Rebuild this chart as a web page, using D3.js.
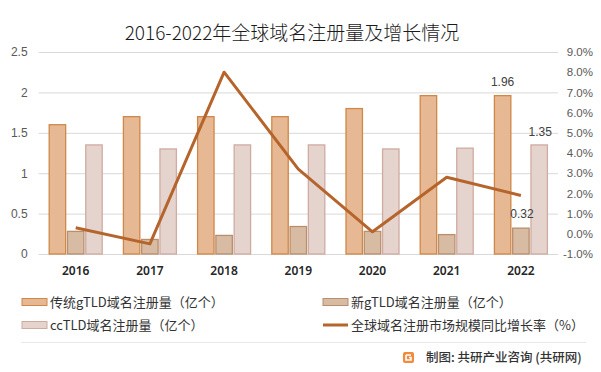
<!DOCTYPE html>
<html>
<head>
<meta charset="utf-8">
<script src="https://cdn.jsdelivr.net/npm/d3@7"></script>
<style>
	body { margin: 0; background: #fff; }
	svg { display: block; font-family: "Noto Sans CJK SC", "Noto Sans", sans-serif; }
</style>
</head>
<body>
<svg id="chart"></svg>
<script>
var years = ['2016', '2017', '2018', '2019', '2020', '2021', '2022']
var seriesNames = ['传统gTLD域名注册量（亿个）', '新gTLD域名注册量（亿个）', 'ccTLD域名注册量（亿个）']
var gtld = [1.60, 1.70, 1.70, 1.70, 1.80, 1.96, 1.96]
var newGtld = [0.28, 0.18, 0.23, 0.34, 0.28, 0.24, 0.32]
var cctld = [1.35, 1.30, 1.35, 1.35, 1.30, 1.31, 1.35]
var lineName = '全球域名注册市场规模同比增长率（%）'
var growth = [0.3, -0.5, 8.0, 3.2, 0.1, 2.8, 1.9]
var leftTicks = [0, 0.5, 1, 1.5, 2, 2.5]
var rightTicks = [-1, 0, 1, 2, 3, 4, 5, 6, 7, 8, 9]

function main() {
	var W = 601, H = 372
	var plot = { left: 38.6, right: 558, top: 52, bottom: 254 }

	var svg = d3.select("#chart")
		.attr("width", W)
		.attr("height", H)

	var fills = ['#E6B893', '#D8BBA3', '#E5D3CD']
	var strokes = ['#D08848', '#B98E6C', '#CFABA1']
	var lineColor = '#B5652C'

	var xScale = d3.scaleBand()
		.domain(years)
		.range([plot.left, plot.right])
		.padding(0)

	var xSub = d3.scaleBand()
		.domain([0, 1, 2])
		.range([10.6, xScale.bandwidth() - 10.6])
		.paddingInner(0.1)

	var yLeft = d3.scaleLinear()
		.domain([0, 2.5])
		.range([plot.bottom, plot.top])

	var yRight = d3.scaleLinear()
		.domain([-1, 9])
		.range([plot.bottom, plot.top])

	// title
	svg.append("text")
		.attr("x", 292)
		.attr("y", 40)
		.attr("text-anchor", "middle")
		.style("font-size", "19px")
		.style("font-weight", "300")
		.style("fill", "#1a1a1a")
		.text("2016-2022年全球域名注册量及增长情况")

	// gridlines
	svg.append("g")
		.selectAll("line")
		.data(leftTicks)
		.enter().append("line")
		.attr("x1", plot.left)
		.attr("x2", plot.right)
		.attr("y1", function (d) { return yLeft(d) + 0.5 })
		.attr("y2", function (d) { return yLeft(d) + 0.5 })
		.style("stroke", "#D9D9D9")
		.style("stroke-width", 1)

	// axis-y left
	var axL = svg.append("g")
		.attr("transform", "translate(" + plot.left + ",0)")
		.call(d3.axisLeft(yLeft).tickValues(leftTicks).tickSize(0).tickPadding(11)
			.tickFormat(function (d) { return d3.format("")(d) }))
	axL.select(".domain").remove()
	axL.selectAll("text")
		.style("font-family", "'Liberation Sans', sans-serif")
		.style("font-size", "12px")
		.style("fill", "#595959")

	// axis-y right
	var axR = svg.append("g")
		.attr("transform", "translate(" + 593 + ",0)")
		.call(d3.axisLeft(yRight).tickValues(rightTicks).tickSize(0).tickPadding(0)
			.tickFormat(function (d) { return d.toFixed(1) + "%" }))
	axR.select(".domain").remove()
	axR.selectAll("text")
		.style("font-family", "'Liberation Sans', sans-serif")
		.style("font-size", "11.5px")
		.style("fill", "#595959")

	// axis-x
	var axX = svg.append("g")
		.attr("transform", "translate(0," + plot.bottom + ")")
		.call(d3.axisBottom(xScale).tickSize(0).tickPadding(12))
	axX.select(".domain").remove()
	axX.selectAll("text")
		.style("font-family", "'Noto Sans', sans-serif")
		.style("font-size", "12px")
		.style("font-weight", "600")
		.style("fill", "#262626")

	// bars
	var allSeries = [gtld, newGtld, cctld]
	allSeries.forEach(function (vals, s) {
		svg.append("g")
			.selectAll("rect")
			.data(vals)
			.enter().append("rect")
			.attr("x", function (d, i) { return xScale(years[i]) + xSub(s) })
			.attr("y", function (d) { return yLeft(d) })
			.attr("width", xSub.bandwidth())
			.attr("height", function (d) { return yLeft(0) - yLeft(d) })
			.style("fill", fills[s])
			.style("stroke", strokes[s])
			.style("stroke-width", 1.3)
	})

	// data labels on last year
	var last = years.length - 1
	var labels = [
		{ s: 0, v: gtld[last], dy: -10 },
		{ s: 1, v: newGtld[last], dy: -10 },
		{ s: 2, v: cctld[last], dy: -9 }
	]
	svg.append("g")
		.selectAll("text")
		.data(labels)
		.enter().append("text")
		.attr("x", function (d) { return xScale(years[last]) + xSub(d.s) + xSub.bandwidth() / 2 + (d.s == 0 ? 0 : 1) })
		.attr("y", function (d) { return yLeft(d.v) + d.dy })
		.attr("text-anchor", "middle")
		.style("font-family", "'Liberation Sans', sans-serif")
		.style("font-size", "12px")
		.style("fill", "#404040")
		.text(function (d) { return d.v.toFixed(2) })

	// growth line
	var valueline = d3.line()
		.x(function (d, i) { return xScale(years[i]) + xScale.bandwidth() / 2 })
		.y(function (d) { return yRight(d) })

	svg.append("path")
		.datum(growth)
		.attr("d", valueline)
		.style("fill", "none")
		.style("stroke", lineColor)
		.style("stroke-width", 3)
		.style("stroke-linejoin", "round")

	// legend
	var legendItems = [
		{ name: seriesNames[0], type: 'bar', fill: fills[0], stroke: strokes[0], x: 22, y: 302 },
		{ name: seriesNames[1], type: 'bar', fill: fills[1], stroke: strokes[1], x: 323, y: 302 },
		{ name: seriesNames[2], type: 'bar', fill: fills[2], stroke: strokes[2], x: 22, y: 325 },
		{ name: lineName, type: 'line', x: 323, y: 325 }
	]
	var lg = svg.append("g").selectAll("g")
		.data(legendItems)
		.enter().append("g")
		.attr("transform", function (d) { return "translate(" + d.x + "," + d.y + ")" })

	lg.each(function (d) {
		var g = d3.select(this)
		if (d.type == 'bar') {
			g.append("rect")
				.attr("x", 0).attr("y", -3.5)
				.attr("width", 25).attr("height", 7)
				.style("fill", d.fill)
				.style("stroke", d.stroke)
				.style("stroke-width", 1)
		} else {
			g.append("line")
				.attr("x1", 0).attr("x2", 25)
				.attr("y1", 0).attr("y2", 0)
				.style("stroke", lineColor)
				.style("stroke-width", 3)
		}
		g.append("text")
			.attr("x", 28)
			.attr("y", 5)
			.style("font-size", "13px")
			.style("fill", "#333")
			.text(d.name)
	})

	// separator
	svg.append("line")
		.attr("x1", 21).attr("x2", 586)
		.attr("y1", 342.5).attr("y2", 342.5)
		.style("stroke", "#E8E8E8")
		.style("stroke-width", 1)

	// footer logo + source
	var logo = svg.append("g").attr("transform", "translate(403,352)")
	logo.append("rect")
		.attr("width", 11).attr("height", 11).attr("rx", 2)
		.style("fill", "#F08A3C")
	logo.append("path")
		.attr("d", "M3,3 H8 M3,3 V8 H8 V5.5 H6")
		.style("fill", "none")
		.style("stroke", "#fff")
		.style("stroke-width", 1.6)

	svg.append("text")
		.attr("x", 426)
		.attr("y", 362)
		.style("font-size", "12.5px")
		.style("font-weight", "500")
		.style("fill", "#333")
		.text("制图: 共研产业咨询 (共研网)")
}

main()
</script>
</body>
</html>
